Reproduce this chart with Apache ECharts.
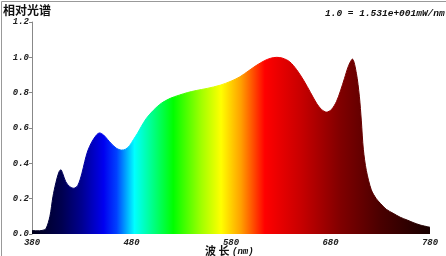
<!DOCTYPE html>
<html><head><meta charset="utf-8">
<script src="https://cdn.jsdelivr.net/npm/echarts@6/dist/echarts.min.js"></script>
<style>html,body{margin:0;padding:0;background:#fff}#c{width:446px;height:256px}</style>
</head><body><div id="c"></div>
<script>
const wavelengths = [380,385,390,394,398,401,404,407,409,411,414,418,422,426,430,433,436,440,445,448,452,456,460,465,470,474,478,482,486,490,495,502,510,519,528,536,545,556,569,580,589,598,606,614,620,626,632,639,646,653,660,666,671,676,681,686,690,694,698,702,706,709,711,713,716,721,726,730,736,743,750,757,763,770,780];
const intensity = [0.02,0.018,0.02,0.03,0.10,0.21,0.29,0.35,0.364,0.34,0.295,0.268,0.259,0.275,0.34,0.41,0.47,0.52,0.562,0.572,0.56,0.535,0.51,0.485,0.475,0.48,0.50,0.535,0.57,0.61,0.655,0.70,0.74,0.768,0.786,0.80,0.812,0.824,0.842,0.865,0.89,0.925,0.956,0.982,0.995,1.0,0.995,0.975,0.93,0.87,0.80,0.74,0.705,0.69,0.705,0.75,0.81,0.88,0.95,0.99,0.91,0.78,0.64,0.48,0.36,0.25,0.2,0.174,0.14,0.117,0.095,0.079,0.065,0.051,0.038];
const xTicks = [380,480,580,680,780];
const yTicks = [0,0.2,0.4,0.6,0.8,1.0,1.2];
const titleText = '相对光谱';
const scaleText = '1.0 = 1.531e+001mW/nm';
const xName = '波 长';
const xUnit = '(nm)';
const colorStops = [
  [380,'#000018'],[410,'#000050'],[430,'#000090'],[452,'#0000f0'],[465,'#0040ff'],[483,'#00ffff'],[500,'#00ff90'],[522,'#00ff00'],[550,'#a0ff00'],[570,'#ffff00'],[590,'#ffa000'],[614,'#ff0000'],[650,'#c80000'],[690,'#800000'],[730,'#4a0000'],[780,'#180000']
];
const chart = echarts.init(document.getElementById('c'), null, {renderer:'canvas'});
const stops = colorStops.map(s => ({offset:(s[0]-380)/400, color:s[1]}));
const grad = () => new echarts.graphic.LinearGradient(0,0,1,0,stops);
const tickFont = {fontFamily:'Liberation Mono', fontWeight:'bold', fontStyle:'italic', fontSize:9, color:'#222'};
chart.setOption({
  animation:false,
  grid:{left:32,right:16,top:22,bottom:22},
  xAxis:{type:'value',min:380,max:780,interval:100,
    axisLine:{show:false},axisTick:{show:false},splitLine:{show:false},
    axisLabel:Object.assign({margin:4},tickFont)},
  yAxis:{type:'value',min:0,max:1.2,interval:0.2,
    axisLine:{show:true,lineStyle:{color:'#888',width:1}},
    axisTick:{show:true,length:3,lineStyle:{color:'#888'}},
    splitLine:{show:false},
    axisLabel:Object.assign({margin:3,formatter:v=>v.toFixed(1)},tickFont)},
  series:[{type:'line',data:wavelengths.map((w,i)=>[w,intensity[i]]),
    smooth:0.3,symbol:'none',
    lineStyle:{width:1,color:grad()},
    areaStyle:{opacity:1,color:grad()}}],
  graphic:[
    {type:'rect',shape:{x:1.5,y:1.5,width:460,height:270},style:{fill:'none',stroke:'#999',lineWidth:1},silent:true},
    {type:'text',left:3,top:4,style:{text:titleText,font:'bold 12px "Noto Sans CJK SC"',fill:'#111'}},
    {type:'text',left:325,top:9,style:{text:scaleText,font:'italic bold 9.5px "Liberation Mono"',fill:'#111'}},
    {type:'text',left:205,top:245,style:{text:xName,font:'bold 11px "Noto Sans CJK SC"',fill:'#111'}},
    {type:'text',left:232,top:247,style:{text:xUnit,font:'italic bold 9px "Liberation Mono"',fill:'#111'}}
  ]
});
</script></body></html>
